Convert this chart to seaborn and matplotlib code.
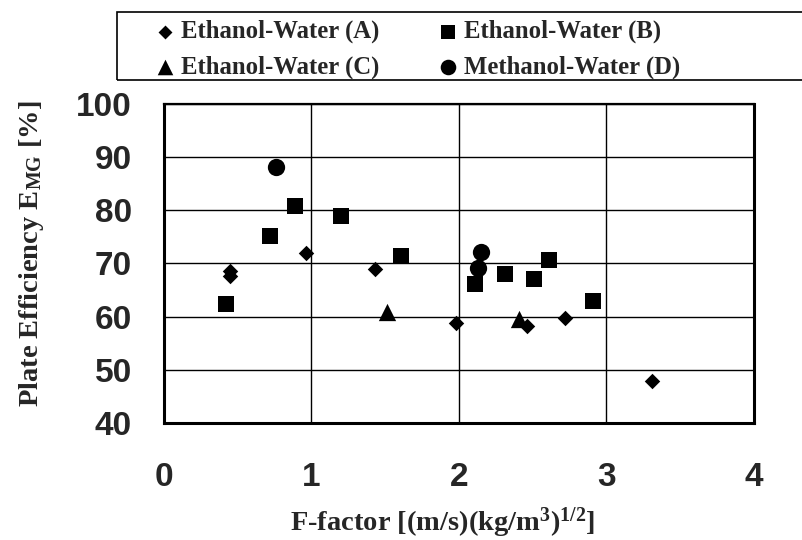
import matplotlib

matplotlib.use("Agg")
import matplotlib.pyplot as plt
import pandas as pd
import seaborn as sns
from matplotlib.patches import Rectangle

# Values
f_a = [0.45, 0.45, 0.96, 1.43, 1.98, 2.46, 2.72, 3.31]
e_a = [68.6, 67.7, 71.9, 68.9, 58.8, 58.3, 59.7, 47.9]

f_b = [0.42, 0.72, 0.89, 1.20, 1.61, 2.11, 2.31, 2.51, 2.61, 2.91]
e_b = [62.4, 75.1, 80.8, 78.9, 71.4, 66.2, 68.1, 67.0, 70.7, 62.9]

f_c = [1.51, 2.41]
e_c = [60.8, 59.6]

f_d = [0.76, 2.13, 2.15]
e_d = [88.2, 69.1, 72.2]

series_names = [
    "Ethanol-Water (A)",
    "Ethanol-Water (B)",
    "Ethanol-Water (C)",
    "Methanol-Water (D)",
]
x_ticks = [0, 1, 2, 3, 4]
y_ticks = [40, 50, 60, 70, 80, 90, 100]

SERIF = "Liberation Serif"
SANS = "Liberation Sans"

sns.set_style("white")
plt.rcParams["font.family"] = [SERIF, "DejaVu Serif"]
plt.rcParams["font.weight"] = "bold"
plt.rcParams["axes.labelweight"] = "bold"
plt.rcParams["mathtext.fontset"] = "custom"
plt.rcParams["mathtext.rm"] = "Liberation Serif:bold"
plt.rcParams["mathtext.it"] = "Liberation Serif:bold"
plt.rcParams["mathtext.bf"] = "Liberation Serif:bold"

frames = [
    pd.DataFrame({"F": f_a, "E": e_a, "series": series_names[0]}),
    pd.DataFrame({"F": f_b, "E": e_b, "series": series_names[1]}),
    pd.DataFrame({"F": f_c, "E": e_c, "series": series_names[2]}),
    pd.DataFrame({"F": f_d, "E": e_d, "series": series_names[3]}),
]
df = pd.concat(frames, ignore_index=True)

markers = {
    series_names[0]: "D",
    series_names[1]: "s",
    series_names[2]: "^",
    series_names[3]: "o",
}
sizes = {
    series_names[0]: 62,
    series_names[1]: 120,
    series_names[2]: 155,
    series_names[3]: 155,
}

fig = plt.figure(figsize=(8.03, 5.40), dpi=100)
ax = fig.add_axes([0.2042, 0.2167, 0.7347, 0.5907])

for name in series_names:
    sub = df[df["series"] == name]
    sns.scatterplot(
        data=sub,
        x="F",
        y="E",
        marker=markers[name],
        s=sizes[name],
        color="black",
        edgecolor="black",
        linewidth=0,
        label=name,
        ax=ax,
        zorder=3,
    )

ax.set_xlim(0, 4)
ax.set_ylim(40, 100)
ax.set_xticks(x_ticks)
ax.set_yticks(y_ticks)
ax.grid(True, color="black", linewidth=1.0)
ax.set_axisbelow(True)
ax.tick_params(direction="in", length=0, pad=23, axis="y")
ax.tick_params(direction="in", length=0, pad=28, axis="x")
for lab in ax.get_xticklabels() + ax.get_yticklabels():
    lab.set_family(SANS)
    lab.set_fontsize(24)
    lab.set_fontweight("bold")

for side in ["left", "bottom", "right"]:
    ax.spines[side].set_linewidth(2.2)
    ax.spines[side].set_color("black")
ax.spines["top"].set_linewidth(1.6)
ax.spines["top"].set_color("black")

ax.set_xlabel(r"F-factor [(m/s)(kg/m$^{3}$)$^{1/2}$]", fontsize=20.5)
ax.set_ylabel(r"Plate Efficiency E$_{\mathrm{MG}}$ [%]", fontsize=20.5)
ax.xaxis.set_label_coords(0.473, -0.26)
ax.yaxis.set_label_coords(-0.2, 0.53)

# Legend in a box across the top of the figure, filled row by row
handles, labels = ax.get_legend_handles_labels()
ax.get_legend().remove()
order = [0, 2, 1, 3]
fig.legend(
    [handles[i] for i in order],
    [labels[i] for i in order],
    ncol=2,
    loc="upper left",
    bbox_to_anchor=(153 / 803, 1 - 20 / 540),
    frameon=False,
    fontsize=17.8,
    handlelength=1.0,
    handletextpad=0.15,
    columnspacing=2.25,
    labelspacing=0.5,
    borderpad=0,
    borderaxespad=0,
    markerscale=0.9,
)
fig.patches.append(
    Rectangle(
        (117 / 803, 1 - 80 / 540),
        700 / 803,
        68 / 540,
        transform=fig.transFigure,
        fill=False,
        edgecolor="black",
        linewidth=1.2,
    )
)

fig.savefig("out.png", dpi=100)
